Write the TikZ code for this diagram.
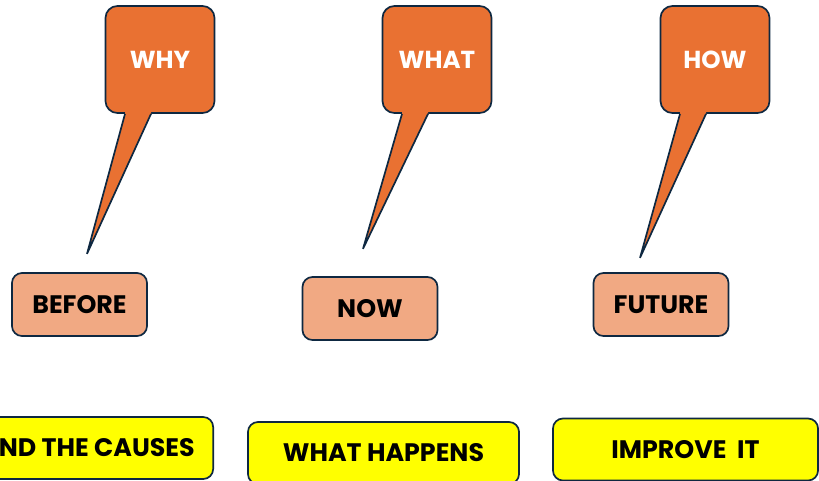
\documentclass[tikz,border=0pt]{standalone}
\usepackage{fontspec}
\setmainfont{Poppins}
\usetikzlibrary{positioning,calc}

\definecolor{calloutorange}{HTML}{E97132}
\definecolor{edgenavy}{HTML}{0E2841}
\definecolor{timesalmon}{HTML}{F1A983}
\definecolor{aimyellow}{HTML}{FFFF00}

\tikzset{
  bubble/.style={rectangle, rounded corners=0.3cm, draw=edgenavy, line width=1.2pt, fill=calloutorange,
    minimum width=2.725cm, minimum height=2.675cm, text=white, font=\fontsize{17.5}{20}\selectfont\bfseries},
  tail/.style={draw=edgenavy, line width=1.2pt, line join=miter},
  timebox/.style={rectangle, rounded corners=0.25cm, draw=edgenavy, line width=1.2pt, fill=timesalmon,
    minimum width=3.375cm, minimum height=1.575cm, font=\fontsize{18}{21}\selectfont\bfseries},
  aimbox/.style={rectangle, rounded corners=0.25cm, draw=edgenavy, line width=1.2pt, fill=aimyellow,
    minimum height=1.55cm, font=\fontsize{18}{21}\selectfont\bfseries}
}

\begin{document}
\begin{tikzpicture}[x=0.025cm, y=-0.025cm]
\useasboundingbox (0,0) rectangle (819,480);
\clip (0,0) rectangle (819,480);

% speech bubbles
\node (why) [bubble] at (160,59.5) {WHY};
\node (what) [bubble] at (437,59.5) {WHAT};
\node (how) [bubble] at (715,59.5) {HOW};

\coordinate (whytip) at ($(why.south)+(-73,140)$);
\coordinate (whattip) at ($(what.south)+(-74,135)$);
\coordinate (howtip) at ($(how.south)+(-75,144)$);

\fill [calloutorange] ($(why.south)+(-35,-3)$) -- ($(why.south)+(-35,0)$) -- (whytip) -- ($(why.south)+(-9,0)$) -- ($(why.south)+(-9,-3)$) -- cycle;
\draw [tail] ($(why.south)+(-35,0)$) -- (whytip) -- ($(why.south)+(-9,0)$);
\fill [calloutorange] ($(what.south)+(-35,-3)$) -- ($(what.south)+(-35,0)$) -- (whattip) -- ($(what.south)+(-9,0)$) -- ($(what.south)+(-9,-3)$) -- cycle;
\draw [tail] ($(what.south)+(-35,0)$) -- (whattip) -- ($(what.south)+(-9,0)$);
\fill [calloutorange] ($(how.south)+(-35,-3)$) -- ($(how.south)+(-35,0)$) -- (howtip) -- ($(how.south)+(-9,0)$) -- ($(how.south)+(-9,-3)$) -- cycle;
\draw [tail] ($(how.south)+(-35,0)$) -- (howtip) -- ($(how.south)+(-9,0)$);

% time boxes
\node (before) [timebox] at (79.5,304.5) {BEFORE};
\node (now) [timebox] at (370,308.5) {NOW};
\node (future) [timebox] at (661,304.5) {FUTURE};

% aims
\node (causes) [aimbox, anchor=east, minimum width=9.5cm] at (214,448) {};
\node (causestext) [anchor=east, inner sep=0pt, font=\fontsize{18}{21}\selectfont\bfseries] at ($(causes.east)+(-19,0)$) {ND THE CAUSES};
\node (happens) [aimbox, minimum width=6.775cm] at (383.5,453) {WHAT HAPPENS};
\node (improve) [aimbox, minimum width=6.625cm] at (685.5,449.5) {IMPROVE~ IT};
\end{tikzpicture}
\end{document}
